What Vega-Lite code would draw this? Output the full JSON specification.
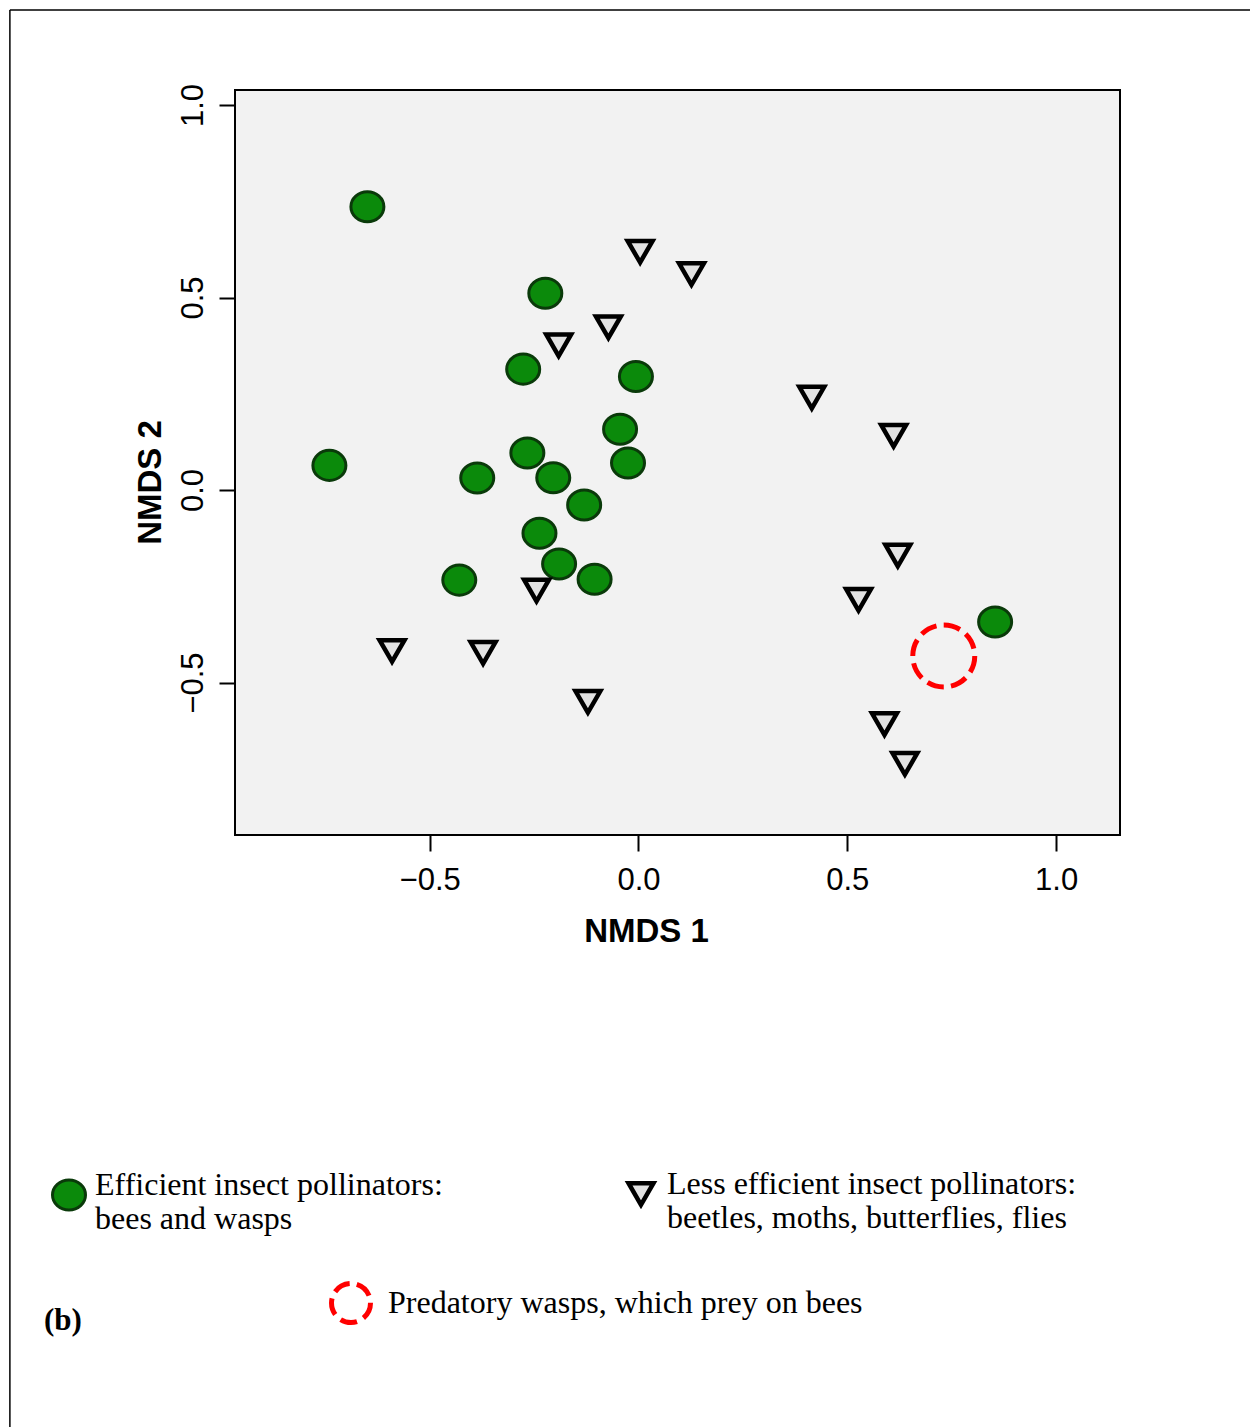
{
  "$schema": "https://vega.github.io/schema/vega-lite/v6.json",
  "width": 885,
  "height": 745,
  "autosize": {"type": "none"},
  "padding": {"left": 235, "top": 90, "right": 130, "bottom": 592},
  "background": "white",
  "config": {
    "view": {"fill": "#f2f2f2", "stroke": "black", "strokeWidth": 2},
    "axis": {"grid": false, "domain": false, "tickColor": "black", "tickWidth": 2, "tickSize": 16,
             "labelFont": "Liberation Sans", "labelFontSize": 31, "labelColor": "black",
             "titleFont": "Liberation Sans", "titleFontSize": 33, "titleFontWeight": "bold", "titleColor": "black"},
    "legend": {"orient": "none", "legendX": -184, "legendY": 1087, "direction": "horizontal", "columns": 2,
               "labelFont": "Liberation Serif", "labelFontSize": 32, "labelColor": "black", "labelBaseline": "alphabetic",
               "labelLimit": 2000, "columnPadding": 176, "labelOffset": 8, "rowPadding": 0}
  },
  "title": {"text": "(b)", "orient": "bottom", "anchor": "start", "frame": "group", "font": "Liberation Serif",
            "fontSize": 31, "fontWeight": "bold", "color": "black", "dx": -191, "offset": -128},
  "datasets": {
    "pollinators": [
      {"x": -0.649, "y": 0.736, "group": "Efficient insect pollinators:|bees and wasps"},
      {"x": -0.223, "y": 0.511, "group": "Efficient insect pollinators:|bees and wasps"},
      {"x": -0.276, "y": 0.314, "group": "Efficient insect pollinators:|bees and wasps"},
      {"x": -0.006, "y": 0.295, "group": "Efficient insect pollinators:|bees and wasps"},
      {"x": -0.044, "y": 0.158, "group": "Efficient insect pollinators:|bees and wasps"},
      {"x": -0.740, "y": 0.064, "group": "Efficient insect pollinators:|bees and wasps"},
      {"x": -0.386, "y": 0.031, "group": "Efficient insect pollinators:|bees and wasps"},
      {"x": -0.266, "y": 0.096, "group": "Efficient insect pollinators:|bees and wasps"},
      {"x": -0.204, "y": 0.032, "group": "Efficient insect pollinators:|bees and wasps"},
      {"x": -0.025, "y": 0.070, "group": "Efficient insect pollinators:|bees and wasps"},
      {"x": -0.130, "y": -0.039, "group": "Efficient insect pollinators:|bees and wasps"},
      {"x": -0.237, "y": -0.112, "group": "Efficient insect pollinators:|bees and wasps"},
      {"x": -0.190, "y": -0.192, "group": "Efficient insect pollinators:|bees and wasps"},
      {"x": -0.429, "y": -0.234, "group": "Efficient insect pollinators:|bees and wasps"},
      {"x": -0.105, "y": -0.232, "group": "Efficient insect pollinators:|bees and wasps"},
      {"x": 0.854, "y": -0.343, "group": "Efficient insect pollinators:|bees and wasps"},
      {"x": 0.004, "y": 0.619, "group": "Less efficient insect pollinators:|beetles, moths, butterflies, flies"},
      {"x": 0.127, "y": 0.561, "group": "Less efficient insect pollinators:|beetles, moths, butterflies, flies"},
      {"x": -0.072, "y": 0.423, "group": "Less efficient insect pollinators:|beetles, moths, butterflies, flies"},
      {"x": -0.191, "y": 0.376, "group": "Less efficient insect pollinators:|beetles, moths, butterflies, flies"},
      {"x": -0.244, "y": -0.261, "group": "Less efficient insect pollinators:|beetles, moths, butterflies, flies"},
      {"x": 0.415, "y": 0.240, "group": "Less efficient insect pollinators:|beetles, moths, butterflies, flies"},
      {"x": 0.611, "y": 0.141, "group": "Less efficient insect pollinators:|beetles, moths, butterflies, flies"},
      {"x": 0.621, "y": -0.170, "group": "Less efficient insect pollinators:|beetles, moths, butterflies, flies"},
      {"x": 0.527, "y": -0.285, "group": "Less efficient insect pollinators:|beetles, moths, butterflies, flies"},
      {"x": 0.589, "y": -0.608, "group": "Less efficient insect pollinators:|beetles, moths, butterflies, flies"},
      {"x": 0.638, "y": -0.711, "group": "Less efficient insect pollinators:|beetles, moths, butterflies, flies"},
      {"x": -0.590, "y": -0.418, "group": "Less efficient insect pollinators:|beetles, moths, butterflies, flies"},
      {"x": -0.372, "y": -0.423, "group": "Less efficient insect pollinators:|beetles, moths, butterflies, flies"},
      {"x": -0.121, "y": -0.550, "group": "Less efficient insect pollinators:|beetles, moths, butterflies, flies"}
    ],
    "predators": [
      {"x": 0.731, "y": -0.431, "kind": "Predatory wasps, which prey on bees"}
    ]
  },
  "layer": [
    {
      "data": {"name": "pollinators"},
      "mark": {"type": "point", "filled": true, "opacity": 1},
      "encoding": {
        "x": {"field": "x", "type": "quantitative",
              "scale": {"domain": [-0.966, 1.153], "nice": false, "zero": false},
              "axis": {"values": [-0.5, 0, 0.5, 1.0], "format": ".1f", "title": "NMDS 1",
                       "labelPadding": 14, "labelDx": -5, "titleX": 411, "titleY": 106, "titleAlign": "center", "titleBaseline": "alphabetic"}},
        "y": {"field": "y", "type": "quantitative",
              "scale": {"domain": [-0.896, 1.039], "nice": false, "zero": false},
              "axis": {"values": [-0.5, 0, 0.5, 1.0], "format": ".1f", "title": "NMDS 2",
                       "labelAngle": -90, "labelAlign": "center", "labelBaseline": "alphabetic", "labelPadding": 17,
                       "titleAngle": -90, "titleX": -75, "titleY": 392, "titleAlign": "center", "titleBaseline": "alphabetic"}},
        "shape": {"field": "group", "type": "nominal",
                  "scale": {"domain": ["Efficient insect pollinators:|bees and wasps", "Less efficient insect pollinators:|beetles, moths, butterflies, flies"],
                            "range": ["M-1,0A1,0.91,0,1,1,1,0A1,0.91,0,1,1,-1,0Z", "triangle-down"]},
                  "legend": {"title": null, "labelExpr": "split(datum.label, '|')"}},
        "fill": {"field": "group", "type": "nominal",
                 "scale": {"domain": ["Efficient insect pollinators:|bees and wasps", "Less efficient insect pollinators:|beetles, moths, butterflies, flies"],
                           "range": ["#0b8a0b", "#e2e2e2"]},
                 "legend": {"title": null, "labelExpr": "split(datum.label, '|')"}},
        "stroke": {"field": "group", "type": "nominal",
                   "scale": {"domain": ["Efficient insect pollinators:|bees and wasps", "Less efficient insect pollinators:|beetles, moths, butterflies, flies"],
                             "range": ["#0a3a0a", "#000000"]},
                   "legend": {"title": null, "labelExpr": "split(datum.label, '|')"}},
        "size": {"field": "group", "type": "nominal",
                 "scale": {"domain": ["Efficient insect pollinators:|bees and wasps", "Less efficient insect pollinators:|beetles, moths, butterflies, flies"],
                           "range": [1089, 620]},
                 "legend": {"title": null, "labelExpr": "split(datum.label, '|')"}},
        "strokeWidth": {"field": "group", "type": "nominal",
                        "scale": {"domain": ["Efficient insect pollinators:|bees and wasps", "Less efficient insect pollinators:|beetles, moths, butterflies, flies"],
                                  "range": [3, 4.5]},
                        "legend": {"title": null, "labelExpr": "split(datum.label, '|')"}}
      }
    },
    {
      "data": {"name": "predators"},
      "mark": {"type": "point", "filled": false, "stroke": "#ff0000", "strokeWidth": 5, "size": 3844, "shape": "circle", "opacity": 1},
      "encoding": {
        "x": {"field": "x", "type": "quantitative"},
        "y": {"field": "y", "type": "quantitative"},
        "strokeDash": {"field": "kind", "type": "nominal",
                       "scale": {"range": [[17, 7.3]]},
                       "legend": {"orient": "none", "legendX": 94, "legendY": 1191, "title": null, "columns": 1,
                                  "labelBaseline": "middle",
                                  "labelOffset": 15, "symbolType": "circle", "symbolSize": 1521,
                                  "symbolStrokeColor": "#ff0000", "symbolFillColor": "transparent", "symbolStrokeWidth": 5}}
      }
    },
    {
      "data": {"values": [{}]},
      "mark": {"type": "rule", "clip": false, "color": "black", "strokeWidth": 1.5},
      "encoding": {"x": {"datum": -1.505}, "y": {"datum": 1.247}, "y2": {"datum": -2.45}}
    },
    {
      "data": {"values": [{}]},
      "mark": {"type": "rule", "clip": false, "color": "black", "strokeWidth": 1.5},
      "encoding": {"y": {"datum": 1.247}, "x": {"datum": -1.505}, "x2": {"datum": 1.47}}
    }
  ]
}
